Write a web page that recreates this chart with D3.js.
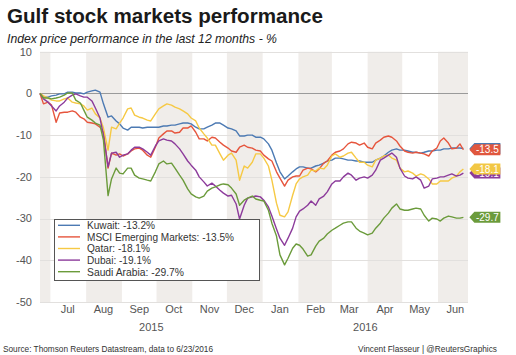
<!DOCTYPE html>
<html><head><meta charset="utf-8">
<script src="https://cdn.jsdelivr.net/npm/d3@7"></script>
<style>
body{margin:0;background:#fff;}
svg{display:block;font-family:"Liberation Sans",Arial,sans-serif;}
</style>
</head><body>
<svg id="chart" width="516" height="355"></svg>
<script>
// ---- data ----
const dates = ["2015-06-22","2015-06-25","2015-06-29","2015-07-02","2015-07-06","2015-07-09","2015-07-13","2015-07-16","2015-07-20","2015-07-23","2015-07-27","2015-07-30",
"2015-08-02","2015-08-06","2015-08-09","2015-08-13","2015-08-16","2015-08-20","2015-08-23","2015-08-27","2015-08-30",
"2015-09-02","2015-09-06","2015-09-09","2015-09-12","2015-09-16","2015-09-19","2015-09-23","2015-09-26","2015-09-30",
"2015-10-03","2015-10-07","2015-10-10","2015-10-14","2015-10-17","2015-10-21","2015-10-24","2015-10-28","2015-10-31",
"2015-11-04","2015-11-07","2015-11-11","2015-11-14","2015-11-18","2015-11-21","2015-11-25","2015-11-28",
"2015-12-02","2015-12-05","2015-12-09","2015-12-12","2015-12-16","2015-12-19","2015-12-23","2015-12-26","2015-12-30",
"2016-01-02","2016-01-06","2016-01-09","2016-01-13","2016-01-16","2016-01-20","2016-01-23","2016-01-27","2016-01-30",
"2016-02-02","2016-02-05","2016-02-09","2016-02-12","2016-02-16","2016-02-19","2016-02-23","2016-02-26",
"2016-03-01","2016-03-04","2016-03-08","2016-03-11","2016-03-15","2016-03-18","2016-03-22","2016-03-25","2016-03-29",
"2016-04-01","2016-04-05","2016-04-08","2016-04-12","2016-04-15","2016-04-19","2016-04-22","2016-04-26","2016-04-29",
"2016-05-03","2016-05-06","2016-05-10","2016-05-13","2016-05-17","2016-05-20","2016-05-24","2016-05-27","2016-05-31",
"2016-06-03","2016-06-06","2016-06-10","2016-06-13","2016-06-17","2016-06-20","2016-06-23"];

const kuwait = [0,-0.9,-0.9,-0.6,-0.4,-0.1,-0.1,0.3,0.3,0.1,0.1,-0.1,
0.3,0.6,0.8,0.3,-2.5,-5.7,-5.4,-6.6,-7.3,
-8.3,-8.8,-8.1,-8.1,-8.1,-8.3,-8.1,-8.1,-8.1,
-8.1,-7.8,-7.8,-7.6,-7.6,-7.3,-7.1,-7.1,-7.3,
-8.1,-8.5,-8.5,-8.1,-7.6,-7.1,-7.1,-7.6,
-8.3,-8.5,-9.0,-10.2,-10.2,-10.0,-10.0,-10.5,-10.5,
-10.9,-12.1,-13.6,-16.7,-18.8,-20.5,-19.8,-18.8,-18.1,
-17.6,-17.6,-17.9,-17.9,-17.4,-17.2,-16.7,-16.2,
-16.0,-15.5,-15.5,-15.7,-16.0,-16.0,-16.2,-16.2,-16.5,
-16.5,-16.5,-16.0,-15.5,-15.0,-14.1,-13.6,-13.3,-13.6,
-13.6,-13.8,-14.1,-14.1,-14.3,-14.1,-13.8,-13.8,-13.6,
-13.6,-13.3,-13.3,-13.1,-13.1,-13.1,-13.2];

const msci = [0,-2.5,-2.1,-2.8,-6.9,-4.7,-4.5,-4.5,-4.2,-4.5,-5.7,-6.1,
-6.9,-7.1,-7.3,-8.1,-9.3,-17.9,-14.3,-14.8,-14.5,
-15.0,-14.5,-13.8,-13.3,-13.1,-13.6,-14.8,-15.3,-12.9,
-10.7,-9.7,-9.0,-9.0,-9.5,-9.3,-8.3,-8.3,-7.8,
-9.3,-10.9,-10.9,-11.4,-10.5,-10.7,-11.7,-12.4,
-13.1,-13.8,-14.1,-12.9,-12.4,-12.9,-13.1,-13.6,-13.8,
-14.8,-15.7,-16.2,-18.8,-20.3,-22.2,-20.8,-20.0,-19.8,
-19.8,-18.4,-17.9,-18.1,-18.8,-18.1,-16.7,-16.2,
-14.8,-14.1,-13.8,-13.3,-12.1,-11.7,-11.9,-12.4,-11.9,
-12.9,-13.3,-11.9,-11.2,-10.5,-10.2,-10.5,-11.4,-12.6,
-13.8,-14.1,-14.3,-14.1,-14.3,-14.5,-15.0,-13.8,-13.1,
-11.4,-10.7,-11.9,-13.3,-13.1,-12.1,-13.5];

const qatar = [0,-0.6,-1.1,-1.6,-1.8,-1.8,-1.3,-1.1,-2.1,-2.3,-2.5,-3.0,
-4.0,-3.5,-4.9,-5.9,-8.3,-13.6,-8.1,-8.5,-7.1,
-5.9,-3.7,-3.5,-5.2,-5.7,-5.9,-6.4,-6.6,-4.9,
-3.7,-3.0,-2.5,-2.8,-3.3,-3.7,-4.2,-4.9,-5.9,
-6.6,-8.3,-9.7,-10.7,-12.4,-12.4,-14.5,-16.0,
-14.8,-14.3,-16.0,-20.8,-17.4,-17.9,-16.5,-14.5,-14.5,
-15.5,-17.4,-20.8,-26.3,-29.2,-29.6,-28.4,-24.4,-21.7,
-20.5,-20.0,-19.6,-18.4,-18.6,-17.9,-18.1,-17.2,
-15.0,-14.5,-15.3,-15.0,-14.3,-14.1,-15.5,-16.5,-16.5,
-17.2,-17.6,-16.0,-15.5,-15.0,-14.8,-15.5,-16.0,-17.9,
-18.8,-18.6,-19.1,-19.8,-19.3,-19.6,-20.5,-21.7,-21.7,
-21.0,-21.0,-21.0,-20.3,-19.8,-18.8,-18.1];

const dubai = [0,-1.3,-2.1,-3.0,-4.2,-3.0,-2.1,-1.1,-0.4,-0.1,-0.6,-0.9,
-0.9,-1.8,-3.5,-5.9,-10.0,-17.6,-14.3,-14.1,-15.3,
-14.8,-14.5,-13.6,-12.9,-12.9,-13.3,-14.1,-14.8,-12.6,
-11.4,-10.9,-11.2,-11.4,-12.1,-13.3,-14.5,-16.2,-17.2,
-18.4,-20.0,-21.2,-22.2,-21.5,-22.2,-23.2,-23.9,
-24.6,-24.4,-26.5,-30.1,-26.8,-25.1,-24.8,-24.6,-24.8,
-25.6,-27.2,-29.4,-32.5,-34.7,-36.4,-34.7,-32.3,-29.6,
-28.2,-27.7,-26.8,-25.8,-26.8,-25.3,-24.6,-23.6,
-21.7,-21.0,-21.0,-20.0,-19.1,-19.6,-20.8,-20.3,-20.0,
-20.3,-19.6,-18.4,-16.0,-15.5,-14.8,-14.3,-15.3,-17.9,
-19.8,-20.3,-20.5,-20.0,-20.8,-22.7,-22.2,-20.5,-20.3,
-20.0,-20.0,-19.6,-19.3,-19.8,-19.6,-19.1];

const saudi = [0,-1.1,-1.1,-1.3,-1.1,-0.9,-0.4,0.1,0.1,-1.6,-2.3,-4.0,
-5.7,-6.4,-7.1,-7.6,-11.2,-24.5,-20.5,-17.9,-19.1,
-19.3,-17.9,-17.9,-19.6,-20.3,-20.5,-20.8,-21.0,-18.8,
-16.9,-16.2,-16.9,-16.7,-17.9,-19.6,-20.8,-22.9,-24.1,
-24.8,-25.1,-24.6,-23.4,-22.7,-22.4,-21.9,-21.7,
-21.9,-22.7,-24.1,-26.8,-25.6,-25.1,-24.6,-25.3,-25.6,
-25.8,-28.0,-31.1,-34.2,-38.7,-41.1,-39.5,-37.1,-36.1,
-36.4,-37.3,-39.0,-38.7,-36.6,-35.4,-34.7,-33.7,
-32.8,-32.3,-31.6,-31.1,-30.8,-30.8,-32.3,-33.0,-33.5,
-33.9,-33.5,-32.3,-31.1,-29.9,-28.7,-27.5,-26.5,-27.7,
-28.0,-28.0,-27.7,-27.5,-27.7,-29.2,-30.6,-29.9,-30.1,
-30.6,-29.9,-29.4,-29.6,-29.9,-29.9,-29.7];

const seriesNames = ["Kuwait","MSCI Emerging Markets","Qatar","Dubai","Saudi Arabia"];
const finalValues = [-13.2,-13.5,-18.1,-19.1,-29.7];
const yTicks = [10,0,-10,-20,-30,-40,-50];
const monthLabels = ["Jul","Aug","Sep","Oct","Nov","Dec","Jan","Feb","Mar","Apr","May","Jun"];
const yearLabels = ["2015","2016"];

// ---- styles ----
const lineColors = ["#4c7ab3","#e6553d","#f6c944","#8c3b9b","#6b9b3b"];
const tagColors  = ["#4c7ab3","#e0573e","#f2c744","#8c3b9b","#6b9b3b"];

const svg = d3.select("#chart");
const parse = d3.utcParse("%Y-%m-%d");
const d0 = parse("2015-06-22"), d1 = parse("2016-06-27");
const x = d3.scaleUtc().domain([d0, d1]).range([40, 468]);
const y = d3.scaleLinear().domain([-50, 10]).range([302, 51.7]);

function squeeze(sel, width) {
  sel.each(function(){ this.setAttribute("textLength", width); this.setAttribute("lengthAdjust","spacingAndGlyphs"); });
}

// month bands
const months = d3.utcMonth.range(d3.utcMonth.floor(d0), d1);
svg.append("g").selectAll("rect").data(months.filter((m,i)=>i%2===0)).join("rect")
  .attr("x", m => x(m < d0 ? d0 : m))
  .attr("width", m => { const n = d3.utcMonth.offset(m,1); return x(n > d1 ? d1 : n) - x(m < d0 ? d0 : m); })
  .attr("y", y(10)).attr("height", y(-50) - y(10))
  .attr("fill", "#f0edea");

// gridlines
svg.append("g").selectAll("line").data(yTicks).join("line")
  .attr("x1", 40).attr("x2", 468)
  .attr("y1", d => Math.round(y(d)) + 0.5).attr("y2", d => Math.round(y(d)) + 0.5)
  .attr("stroke", d => d === 0 ? "#9a9a9a" : "#e2e0de").attr("stroke-width", 1);

// y labels
svg.append("g").selectAll("text").data(yTicks).join("text")
  .attr("x", 32).attr("y", d => y(d)).attr("dy", "0.35em")
  .attr("text-anchor", "end").attr("font-size", 11).attr("fill", "#555")
  .text(d => d);

// x labels
const labelMonths = months.slice(1);
svg.append("g").selectAll("text").data(labelMonths).join("text")
  .attr("x", m => x(d3.utcDay.offset(m, 15)))
  .attr("y", 313).attr("text-anchor", "middle").attr("font-size", 11).attr("fill", "#555")
  .text((m,i) => monthLabels[i]);
const yearStarts = [d0, parse("2016-01-01")];
const yearEnds = [parse("2016-01-01"), d1];
svg.append("g").selectAll("text").data(yearLabels).join("text")
  .attr("x", (d,i) => (x(yearStarts[i]) + x(yearEnds[i])) / 2)
  .attr("y", 331).attr("text-anchor", "middle").attr("font-size", 11).attr("fill", "#555")
  .text(d => d);

// lines
const allSeries = [kuwait, msci, qatar, dubai, saudi];
const line = d3.line().x((v,i) => x(parse(dates[i]))).y(v => y(v));
svg.append("g").selectAll("path").data(allSeries).join("path")
  .attr("d", s => line(s)).attr("fill", "none")
  .attr("stroke", (s,i) => lineColors[i]).attr("stroke-width", 1.4)
  .attr("stroke-linejoin", "round");

// end tags
const lastDate = parse(dates[dates.length-1]);
const xe = x(lastDate);
const tagOrder = [0,3,1,2,4];
const tags = svg.append("g").selectAll("g").data(tagOrder).join("g")
  .attr("transform", i => `translate(${xe},${y(finalValues[i])})`);
tags.append("path")
  .attr("d", "M6,0 L11,-5.5 L37,-5.5 L37,5.5 L11,5.5 Z")
  .attr("fill", i => tagColors[i]);
tags.append("text").attr("x", 24).attr("dy", "0.36em").attr("text-anchor", "middle")
  .attr("font-size", 10).attr("fill", "#fff")
  .text(i => finalValues[i].toFixed(1));

// legend
const lg = svg.append("g");
lg.append("rect").attr("x", 54.5).attr("y", 219.5).attr("width", 205).attr("height", 61)
  .attr("fill", "#fff").attr("stroke", "#555").attr("stroke-width", 1);
const legendW = [68, 147, 63, 64, 97];
const rows = lg.selectAll("g").data(seriesNames).join("g")
  .attr("transform", (d,i) => `translate(0,${225.3 + i*11.6})`);
rows.append("line").attr("x1", 58).attr("x2", 80).attr("y1", 0).attr("y2", 0)
  .attr("stroke", (d,i) => lineColors[i]).attr("stroke-width", 1.4);
rows.append("text").attr("x", 87).attr("dy", "0.36em").attr("font-size", 11).attr("fill", "#333")
  .text((d,i) => `${d}: ${finalValues[i].toFixed(1)}%`)
  .each(function(d,i){ this.setAttribute("textLength", legendW[i]); this.setAttribute("lengthAdjust","spacingAndGlyphs"); });

// titles
svg.append("text").attr("x", 7).attr("y", 22.5).attr("font-size", 20).attr("font-weight", "bold")
  .attr("fill", "#1a1a1a").text("Gulf stock markets performance").call(squeeze, 316);
svg.append("text").attr("x", 7).attr("y", 43).attr("font-size", 13).attr("font-style", "italic")
  .attr("fill", "#222").text("Index price performance in the last 12 months - %").call(squeeze, 270);

// footer
svg.append("text").attr("x", 3).attr("y", 352).attr("font-size", 9.5).attr("fill", "#333")
  .text("Source: Thomson Reuters Datastream, data to 6/23/2016").call(squeeze, 210);
svg.append("text").attr("x", 497).attr("y", 352).attr("font-size", 9.5).attr("fill", "#333")
  .attr("text-anchor", "end").text("Vincent Flasseur | @ReutersGraphics").call(squeeze, 139);
</script>
</body></html>
